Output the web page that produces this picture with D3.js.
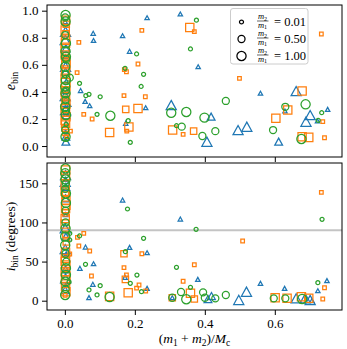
<!DOCTYPE html>
<html lang="en">
<head>
<meta charset="utf-8">
<title>Binary eccentricity and inclination</title>
<script src="https://cdn.jsdelivr.net/npm/d3@7"></script>
<style>
body { margin: 0; background: #fff; }
text { font-family: "Liberation Serif", serif; fill: #000; }
</style>
</head>
<body>
<script>
// each point: [ (m1+m2)/Mc , value , m2/m1 ]
const blueTop = [
  [0.002,0.845,1],[0.001,0.783,1],[0.003,0.722,0.5],[0.002,0.586,1],[0.001,0.414,0.5],
  [0.003,0.327,1],[0.002,0.266,1],[0.004,0.229,0.5],[0.002,0.106,0.01],[0.003,0.032,0.5],
  [0.001,0.92,0.01],[0.002,0.66,0.01],[0.004,0.48,0.01],[0.003,0.17,0.01],[0.005,0.30,0.01],
  [0.010,0.24,0.01],[0.002,0.55,0.5],[0.001,0.37,1],[0.003,0.07,0.5],
  [0.081,0.833,0.01],[0.082,0.78,0.01],[0.165,0.815,0.01],[0.235,0.948,0.01],[0.185,0.70,0.01],
  [0.045,0.41,0.01],[0.058,0.33,0.01],[0.071,0.298,0.01],[0.231,0.283,0.01],[0.174,0.168,0.01],
  [0.330,0.976,0.01],[0.381,0.586,0.01],[0.304,0.303,1],[0.418,0.217,0.5],[0.495,0.118,1],
  [0.406,0.032,1],[0.520,0.143,1],[0.559,0.39,0.01],[0.661,0.406,1],[0.629,0.259,0.01],
  [0.701,0.229,1],[0.689,0.18,1],[0.751,0.271,0.01],[0.722,0.185,0.01],[0.611,0.032,0.5]
];
const orangeTop = [
  [0.002,0.93,1],[0.001,0.857,1],[0.003,0.83,0.5],[0.002,0.76,1],[0.001,0.673,1],
  [0.003,0.623,1],[0.002,0.549,1],[0.001,0.50,1],[0.003,0.438,1],[0.002,0.364,1],
  [0.001,0.278,1],[0.003,0.217,1],[0.002,0.168,1],[0.001,0.131,0.5],[0.004,0.90,0.5],
  [0.004,0.33,0.5],[0.005,0.07,0.01],
  [0.002,0.79,1],[0.001,0.72,1],[0.003,0.60,1],[0.002,0.47,1],[0.001,0.40,1],
  [0.003,0.31,1],[0.002,0.25,1],[0.001,0.19,1],[0.003,0.10,0.5],[0.002,0.65,0.5],
  [0.016,0.11,0.01],[0.040,0.766,0.01],[0.035,0.542,0.01],[0.054,0.234,0.01],[0.078,0.20,0.01],
  [0.169,0.372,0.01],[0.230,0.364,0.01],[0.220,0.855,0.01],[0.209,0.606,0.01],[0.170,0.565,0.01],
  [0.176,0.549,0.01],[0.174,0.271,0.5],[0.209,0.278,1],[0.183,0.14,1],[0.177,0.11,0.01],
  [0.128,0.10,1],[0.357,0.875,1],[0.370,0.845,0.01],[0.499,0.50,0.01],[0.308,0.118,1],
  [0.338,0.086,0.01],[0.368,0.11,0.5],[0.733,0.828,0.01],[0.678,0.406,1],[0.637,0.266,1],
  [0.603,0.205,1],[0.678,0.069,1],[0.697,0.064,1],[0.737,0.18,0.01],[0.742,0.061,0.01]
];
const greenTop = [
  [0.002,0.968,1],[0.001,0.95,0.5],[0.003,0.759,1],[0.002,0.70,1],[0.001,0.586,1],
  [0.003,0.488,1],[0.002,0.39,1],[0.001,0.29,1],[0.003,0.229,1],[0.002,0.069,1],
  [0.004,0.64,0.5],[0.003,0.41,0.5],[0.004,0.16,0.01],[0.006,0.05,0.01],
  [0.002,0.92,1],[0.001,0.82,0.5],[0.003,0.66,1],[0.002,0.53,0.5],[0.001,0.44,1],
  [0.002,0.34,0.5],[0.003,0.26,0.5],[0.001,0.12,0.5],
  [0.014,0.505,0.5],[0.042,0.463,0.01],[0.060,0.372,0.01],[0.069,0.382,0.01],[0.101,0.364,0.01],
  [0.092,0.234,0.01],[0.130,0.224,1],[0.181,0.187,0.01],[0.187,0.027,0.01],[0.172,0.574,0.01],
  [0.205,0.68,0.01],[0.225,0.53,0.01],[0.218,0.44,0.01],[0.376,0.93,0.01],[0.359,0.717,0.01],
  [0.460,0.333,0.5],[0.304,0.246,1],[0.347,0.251,1],[0.399,0.21,1],[0.319,0.15,0.01],
  [0.334,0.143,0.5],[0.393,0.074,0.5],[0.430,0.11,0.5],[0.630,0.29,0.5],[0.688,0.308,1],
  [0.734,0.246,0.01],[0.724,0.19,0.01],[0.595,0.118,0.5],[0.676,0.052,1]
];

const blueBot = [
  [0.002,160.6,1],[0.001,152,1],[0.003,145.6,0.5],[0.002,130.8,0.5],[0.001,92.5,1],
  [0.003,81.8,0.5],[0.002,28.6,1],[0.001,13.7,0.5],[0.003,155,0.01],[0.002,110,0.01],
  [0.004,60,0.01],[0.003,20,0.01],[0.002,40,0.5],[0.001,66,1],
  [0.043,41.4,0.01],[0.059,68.6,0.01],[0.082,47.3,0.01],[0.080,21,0.01],[0.069,3.9,0.01],
  [0.165,128.7,0.01],[0.185,68.2,0.01],[0.235,61.3,0.01],[0.172,29.9,0.01],[0.235,15.8,0.01],
  [0.330,104.4,0.01],[0.380,27.3,0.01],[0.307,3.8,0.01],[0.419,6,0.5],[0.409,2.2,0.5],
  [0.497,1,1],[0.519,11.5,1],[0.559,22.2,0.01],[0.628,15.8,0.01],[0.661,3,1],
  [0.687,3,1],[0.701,0.9,1],[0.723,12.8,0.01],[0.749,25.6,0.01],[0.706,0,0.01]
];
const orangeBot = [
  [0.002,167,1],[0.001,148,1],[0.003,122,1],[0.002,118,1],[0.001,105,1],
  [0.002,54,1],[0.003,45.6,1],[0.001,37,1],[0.002,26.4,1],[0.003,11.5,1],
  [0.002,135,0.5],[0.004,75,0.5],[0.001,7,0.01],
  [0.002,160,1],[0.001,140,1],[0.003,128,1],[0.002,112,0.5],[0.001,98,1],
  [0.003,85,0.5],[0.002,62,1],[0.001,50,1],[0.003,32,1],[0.002,18,1],
  [0.014,59.7,0.01],[0.054,86.1,0.01],[0.036,81,0.01],[0.040,69.9,0.01],[0.071,63.5,0.01],
  [0.169,60,0.5],[0.220,60,0.01],[0.169,42.2,0.01],[0.076,31.6,0.01],[0.176,32.8,0.01],
  [0.173,27.3,0.5],[0.212,20.1,0.01],[0.205,16,0.01],[0.231,12.4,0.01],[0.128,5.5,1],
  [0.181,10.2,1],[0.508,76.3,0.01],[0.370,46,0.01],[0.338,24.8,0.01],[0.359,9.4,1],
  [0.370,2.2,0.5],[0.307,3.8,0.5],[0.733,138.5,0.01],[0.601,3.8,1],[0.635,3,1],
  [0.676,5.1,1],[0.697,3,1],[0.742,16.6,0.01],[0.737,2.2,0.01]
];
const greenBot = [
  [0.002,169,1],[0.001,162.8,1],[0.003,137,1],[0.002,92.5,1],[0.001,71,1],
  [0.003,41.4,1],[0.002,24.3,1],[0.001,7.3,1],[0.003,150,0.5],[0.002,115,0.5],
  [0.004,50,0.5],[0.014,86,0.01],[0.014,77.6,0.01],[0.012,24,0.01],
  [0.002,155,1],[0.001,143,0.5],[0.003,125,1],[0.002,100,0.5],[0.001,82,1],
  [0.002,60,0.5],[0.003,33,1],[0.002,15,0.5],
  [0.042,82.7,0.01],[0.225,79.7,0.01],[0.173,62.6,0.01],[0.059,46.5,0.01],[0.179,117.2,0.01],
  [0.206,32.8,0.01],[0.187,22.2,0.01],[0.101,19.2,0.01],[0.069,13.7,0.01],[0.219,11.5,0.01],
  [0.092,7.3,0.01],[0.128,4.7,1],[0.375,91.2,0.01],[0.319,42.7,0.01],[0.359,17.1,0.01],
  [0.332,11.1,0.5],[0.347,1.8,1],[0.307,3.8,0.5],[0.395,10.7,0.5],[0.400,3.8,0.5],
  [0.430,3,0.5],[0.460,7.3,0.5],[0.735,104,0.01],[0.597,3,0.5],[0.630,3,0.5],
  [0.678,2.2,1],[0.723,23,0.01]
];

const xTicks = [0, 0.2, 0.4, 0.6];
const eTicks = [0, 0.2, 0.4, 0.6, 0.8, 1.0];
const iTicks = [0, 50, 100, 150];
const legendRatios = [0.01, 0.5, 1.0];
const legendLabels = ["= 0.01", "= 0.50", "= 1.00"];
const refInclination = 90;

const width = 347, height = 349;
const left = 47, right = 342;
const topPanel = {y0: 5, y1: 157};
const botPanel = {y0: 163, y1: 310};

const svg = d3.select("body").append("svg")
    .attr("width", width)
    .attr("height", height);

const x = d3.scaleLinear().domain([-0.051, 0.792]).range([left, right]);
const yE = d3.scaleLinear().domain([-0.081, 1.042]).range([topPanel.y1, topPanel.y0]);
const yI = d3.scaleLinear().domain([-11.9, 176]).range([botPanel.y1, botPanel.y0]);
const rScale = d3.scaleSqrt().domain([0, 1.22]).range([0, 4.6]);
const radius = q => rScale(q + 0.22);

function markerPath(type, r) {
    if (type === "circle") {
        return `M${r},0A${r},${r} 0 1,1 ${-r},0A${r},${r} 0 1,1 ${r},0Z`;
    }
    if (type === "square") {
        const s = 0.9 * r;
        return `M${-s},${-s}H${s}V${s}H${-s}Z`;
    }
    const b = 1.1 * r, h = 1.0 * r;
    return `M0,${-h}L${b},${h}L${-b},${h}Z`;
}

const series = [
    {top: blueTop, bot: blueBot, color: "#1f77b4", type: "triangle"},
    {top: orangeTop, bot: orangeBot, color: "#ff7f0e", type: "square"},
    {top: greenTop, bot: greenBot, color: "#2ca02c", type: "circle"}
];

// clip paths
const defs = svg.append("defs");
defs.append("clipPath").attr("id", "clipTop").append("rect")
    .attr("x", left).attr("y", topPanel.y0)
    .attr("width", right - left).attr("height", topPanel.y1 - topPanel.y0);
defs.append("clipPath").attr("id", "clipBot").append("rect")
    .attr("x", left).attr("y", botPanel.y0)
    .attr("width", right - left).attr("height", botPanel.y1 - botPanel.y0);

// reference line at 90 degrees
svg.append("line")
    .attr("x1", left).attr("x2", right)
    .attr("y1", yI(refInclination)).attr("y2", yI(refInclination))
    .attr("stroke", "#c4c4c4").attr("stroke-width", 2);

const gTop = svg.append("g").attr("clip-path", "url(#clipTop)");
const gBot = svg.append("g").attr("clip-path", "url(#clipBot)");

series.forEach(function(s) {
    gTop.selectAll(null)
        .data(s.top)
        .enter()
        .append("path")
        .attr("d", d => markerPath(s.type, radius(d[2])))
        .attr("transform", d => `translate(${x(d[0])},${yE(d[1])})`)
        .attr("fill", "none")
        .attr("stroke", s.color)
        .attr("stroke-width", 1.25);
    gBot.selectAll(null)
        .data(s.bot)
        .enter()
        .append("path")
        .attr("d", d => markerPath(s.type, radius(d[2])))
        .attr("transform", d => `translate(${x(d[0])},${yI(d[1])})`)
        .attr("fill", "none")
        .attr("stroke", s.color)
        .attr("stroke-width", 1.25);
});

// axes
function styleAxis(g) {
    g.select(".domain").remove();
    g.selectAll(".tick line").attr("stroke", "#000").attr("stroke-width", 1);
    g.selectAll(".tick text")
        .attr("font-family", "Liberation Serif, serif")
        .attr("font-size", 13)
        .attr("fill", "#000");
}

svg.append("g")
    .attr("transform", `translate(${left},0)`)
    .call(d3.axisLeft(yE).tickValues(eTicks).tickFormat(d3.format(".1f")).tickSize(5).tickPadding(3.5))
    .call(styleAxis);
svg.append("g")
    .attr("transform", `translate(${left},0)`)
    .call(d3.axisLeft(yI).tickValues(iTicks).tickFormat(d3.format("d")).tickSize(5).tickPadding(3.5))
    .call(styleAxis);
svg.append("g")
    .attr("transform", `translate(0,${topPanel.y1})`)
    .call(d3.axisBottom(x).tickValues(xTicks).tickFormat("").tickSize(5))
    .call(styleAxis);
svg.append("g")
    .attr("transform", `translate(0,${botPanel.y1})`)
    .call(d3.axisBottom(x).tickValues(xTicks).tickFormat(d3.format(".1f")).tickSize(5).tickPadding(4))
    .call(styleAxis);

// frames
[topPanel, botPanel].forEach(function(p) {
    svg.append("rect")
        .attr("x", left).attr("y", p.y0)
        .attr("width", right - left).attr("height", p.y1 - p.y0)
        .attr("fill", "none").attr("stroke", "#000").attr("stroke-width", 1);
});

// axis labels
const eLab = svg.append("text")
    .attr("transform", `translate(15,${(topPanel.y0 + topPanel.y1) / 2}) rotate(-90)`)
    .attr("text-anchor", "middle")
    .attr("font-size", 14);
eLab.append("tspan").attr("font-style", "italic").text("e");
eLab.append("tspan").attr("font-size", 9.5).attr("dy", 3).text("bin");

const iLab = svg.append("text")
    .attr("transform", `translate(15,${(botPanel.y0 + botPanel.y1) / 2}) rotate(-90)`)
    .attr("text-anchor", "middle")
    .attr("font-size", 13.5);
iLab.append("tspan").attr("font-style", "italic").text("i");
iLab.append("tspan").attr("font-size", 9.5).attr("dy", 3).text("bin");
iLab.append("tspan").attr("dy", -3).text(" (degrees)");

const xLab = svg.append("text")
    .attr("x", (left + right) / 2)
    .attr("y", 343)
    .attr("text-anchor", "middle")
    .attr("font-size", 13.5);
xLab.append("tspan").text("(");
xLab.append("tspan").attr("font-style", "italic").text("m");
xLab.append("tspan").attr("font-size", 9.5).attr("dy", 3).text("1");
xLab.append("tspan").attr("dy", -3).text(" + ");
xLab.append("tspan").attr("font-style", "italic").text("m");
xLab.append("tspan").attr("font-size", 9.5).attr("dy", 3).text("2");
xLab.append("tspan").attr("dy", -3).text(")/");
xLab.append("tspan").attr("font-style", "italic").text("M");
xLab.append("tspan").attr("font-size", 9.5).attr("dy", 3).text("c");

// legend
const legend = svg.append("g");
legend.append("rect")
    .attr("x", 230.5).attr("y", 8.5)
    .attr("width", 77.5).attr("height", 55.5)
    .attr("rx", 2.5)
    .attr("fill", "#fff").attr("fill-opacity", 0.8)
    .attr("stroke", "#cccccc").attr("stroke-width", 1);

const rows = legend.selectAll(".row")
    .data(legendRatios)
    .enter()
    .append("g")
    .attr("class", "row")
    .attr("transform", (d, i) => `translate(0,${22 + i * 17})`);

rows.append("path")
    .attr("d", d => markerPath("circle", radius(d)))
    .attr("transform", "translate(241.5,0)")
    .attr("fill", "none").attr("stroke", "#000").attr("stroke-width", 1.25);

rows.each(function(d, i) {
    const g = d3.select(this);
    const num = g.append("text").attr("x", 262.5).attr("y", -3).attr("text-anchor", "middle").attr("font-size", 8.5);
    num.append("tspan").attr("font-style", "italic").text("m");
    num.append("tspan").attr("font-size", 6).attr("dy", 1.5).text("2");
    g.append("line").attr("x1", 257).attr("x2", 268.5).attr("y1", -1).attr("y2", -1)
        .attr("stroke", "#000").attr("stroke-width", 0.6);
    const den = g.append("text").attr("x", 262.5).attr("y", 5.5).attr("text-anchor", "middle").attr("font-size", 8.5);
    den.append("tspan").attr("font-style", "italic").text("m");
    den.append("tspan").attr("font-size", 6).attr("dy", 1.5).text("1");
    g.append("text").attr("x", 274).attr("y", 3.5).attr("font-size", 12.5).text(legendLabels[i]);
});
</script>
</body>
</html>
